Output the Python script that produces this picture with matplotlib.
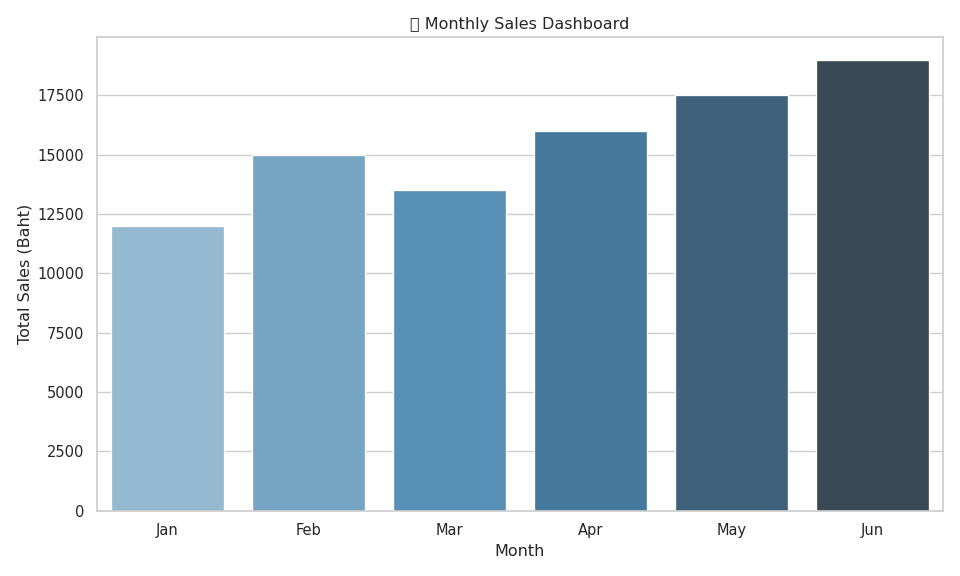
import matplotlib
matplotlib.use("Agg")
import matplotlib.pyplot as plt
import seaborn as sns
import pandas as pd

months = ["Jan", "Feb", "Mar", "Apr", "May", "Jun"]
sales = [12000, 15000, 13500, 16000, 17500, 19000]

sns.set_theme(style="whitegrid")
df = pd.DataFrame({"Month": months, "Total Sales (Baht)": sales})
fig, ax = plt.subplots(figsize=(10, 6), dpi=96)
sns.barplot(data=df, x="Month", y="Total Sales (Baht)", hue="Month",
            palette="Blues_d", legend=False, ax=ax)
ax.set_title("📊 Monthly Sales Dashboard")
fig.tight_layout()
fig.savefig("out.png", dpi=96)
